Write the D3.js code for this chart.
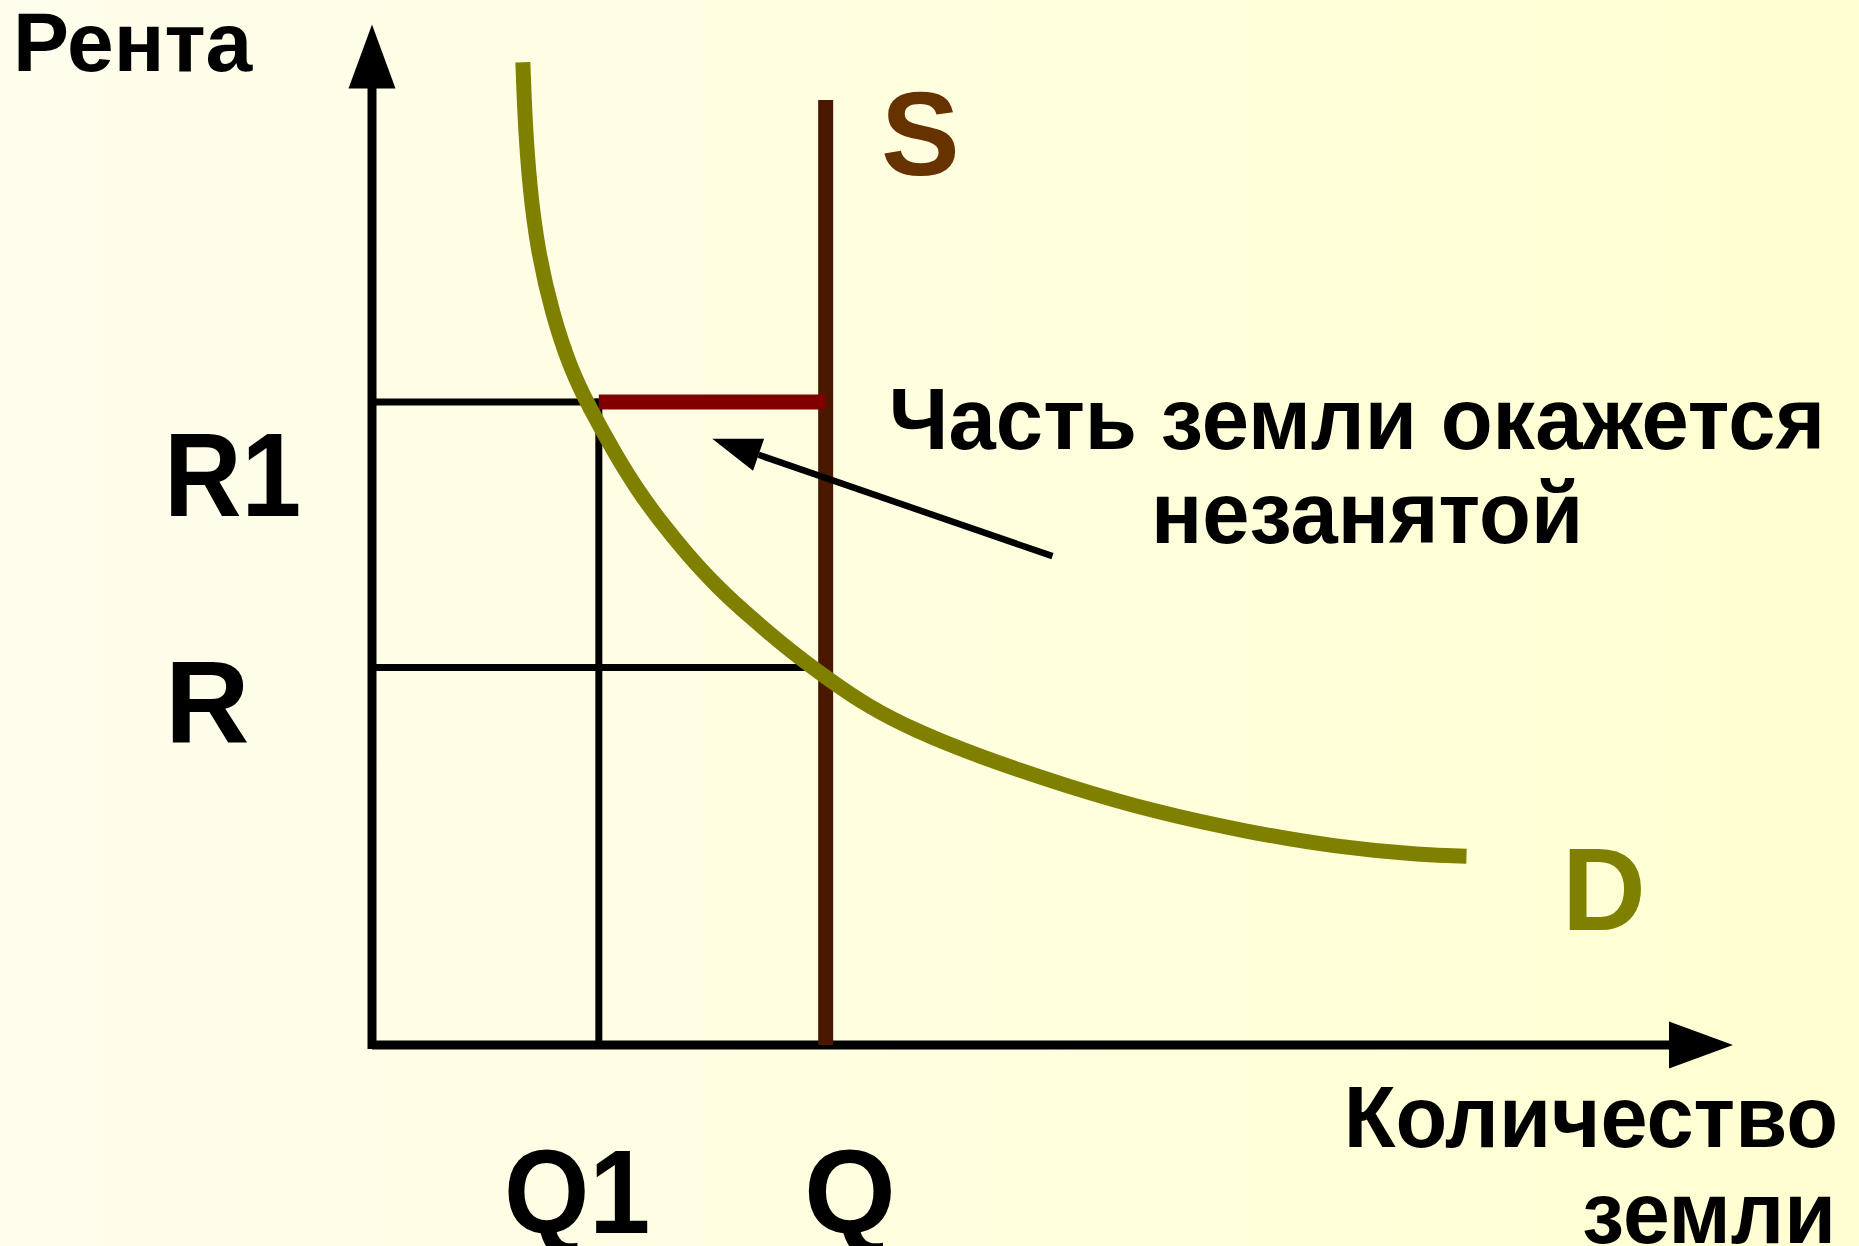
<!DOCTYPE html>
<html>
<head>
<meta charset="utf-8">
<script src="https://cdn.jsdelivr.net/npm/d3@7"></script>
<style>
  body { margin: 0; padding: 0; overflow: hidden; }
  text { font-family: "Liberation Sans", Arial, sans-serif; font-weight: bold; }
</style>
</head>
<body>
<svg id="chart" width="1859" height="1246"></svg>
<script>
// demand curve D (quantity, rent)
var demandQ = [1.33, 1.35, 1.39, 1.46, 1.59, 1.75, 1.91, 2.15, 2.34, 2.53, 2.77, 3.05, 3.36, 3.69, 4.03, 4.37, 4.79, 5.32, 6.14, 6.92, 7.71, 8.50, 9.28, 9.65];
var demandR = [9.63, 9.03, 8.41, 7.79, 7.16, 6.63, 6.26, 5.78, 5.44, 5.15, 4.82, 4.48, 4.17, 3.86, 3.58, 3.32, 3.08, 2.84, 2.53, 2.28, 2.09, 1.94, 1.86, 1.85];

// supply S is fixed at Q
var supplyQ = 4.0;
var supplyTop = 9.26;

// levels
var levelQ = [2.0, 4.0];      // Q1, Q
var levelR = [6.30, 3.70];    // R1, R

// annotation arrow (from text to the unused land)
var noteFrom = [6.0, 4.79];
var noteTo = [3.0, 5.94];

var svg = d3.select("#chart"),
    width = +svg.attr("width"),
    height = +svg.attr("height");

var defs = svg.append("defs");
var grad = defs.append("linearGradient")
    .attr("id", "bg")
    .attr("x1", "0%").attr("y1", "0%")
    .attr("x2", "100%").attr("y2", "0%");
grad.append("stop").attr("offset", "0%").attr("stop-color", "#fffdec");
grad.append("stop").attr("offset", "100%").attr("stop-color", "#ffffd1");

svg.append("rect")
    .attr("width", width)
    .attr("height", height)
    .attr("fill", "url(#bg)");

var x = d3.scaleLinear().domain([0, 12]).range([372, 1733]);
var y = d3.scaleLinear().domain([0, 10]).range([1045, 24.5]);

var headLen = 64, headHalf = 23.5;

// axes with arrows
var g = svg.append("g");

g.append("line")
    .attr("x1", x(0)).attr("y1", y(0) + 4)
    .attr("x2", x(0)).attr("y2", y(10) + headLen - 1)
    .attr("stroke", "#000").attr("stroke-width", 9);
g.append("polygon")
    .attr("points", [
      [x(0), y(10)],
      [x(0) - headHalf, y(10) + headLen],
      [x(0) + headHalf, y(10) + headLen]
    ].join(" "))
    .attr("fill", "#000");

g.append("line")
    .attr("x1", x(0)).attr("y1", y(0))
    .attr("x2", x(12) - headLen + 1).attr("y2", y(0))
    .attr("stroke", "#000").attr("stroke-width", 9);
g.append("polygon")
    .attr("points", [
      [x(12), y(0)],
      [x(12) - headLen, y(0) - headHalf],
      [x(12) - headLen, y(0) + headHalf]
    ].join(" "))
    .attr("fill", "#000");

// guide lines
g.append("line")
    .attr("x1", x(0)).attr("y1", y(levelR[0]))
    .attr("x2", x(levelQ[0])).attr("y2", y(levelR[0]))
    .attr("stroke", "#000").attr("stroke-width", 7);
g.append("line")
    .attr("x1", x(levelQ[0])).attr("y1", y(levelR[0]) - 3.5)
    .attr("x2", x(levelQ[0])).attr("y2", y(0))
    .attr("stroke", "#000").attr("stroke-width", 7);
g.append("line")
    .attr("x1", x(0)).attr("y1", y(levelR[1]))
    .attr("x2", x(levelQ[1])).attr("y2", y(levelR[1]))
    .attr("stroke", "#000").attr("stroke-width", 7);

// supply line S
g.append("line")
    .attr("x1", x(supplyQ)).attr("y1", y(supplyTop))
    .attr("x2", x(supplyQ)).attr("y2", y(0))
    .attr("stroke", "#4a1800").attr("stroke-width", 15);

// unused land segment
g.append("line")
    .attr("x1", x(levelQ[0])).attr("y1", y(levelR[0]))
    .attr("x2", x(levelQ[1])).attr("y2", y(levelR[0]))
    .attr("stroke", "#800000").attr("stroke-width", 15);

// demand curve D
var demand = demandQ.map(function(q, i) { return [q, demandR[i]]; });
var line = d3.line()
    .x(function(d) { return x(d[0]); })
    .y(function(d) { return y(d[1]); })
    .curve(d3.curveBasis);

g.append("path")
    .attr("d", line(demand))
    .attr("fill", "none")
    .attr("stroke", "#808000")
    .attr("stroke-width", 15);

// annotation arrow
var fx = x(noteFrom[0]), fy = y(noteFrom[1]),
    tx = x(noteTo[0]), ty = y(noteTo[1]);
var ang = Math.atan2(ty - fy, tx - fx);
var aLen = 49, aHalf = 17;
var bx = tx - aLen * Math.cos(ang), by = ty - aLen * Math.sin(ang);
g.append("line")
    .attr("x1", fx).attr("y1", fy)
    .attr("x2", bx).attr("y2", by)
    .attr("stroke", "#000").attr("stroke-width", 6.5);
g.append("polygon")
    .attr("points", [
      [tx, ty],
      [bx + aHalf * Math.sin(ang), by - aHalf * Math.cos(ang)],
      [bx - aHalf * Math.sin(ang), by + aHalf * Math.cos(ang)]
    ].join(" "))
    .attr("fill", "#000");

// squeeze a text a little, the slide font runs narrower
function squeeze(sel, k) {
  sel.each(function() {
    var w = this.getComputedTextLength();
    d3.select(this).attr("textLength", w * k).attr("lengthAdjust", "spacingAndGlyphs");
  });
}

// labels
var labels = [
  {t: "Рента", x: 13, y: 71, size: 84, fill: "#000", k: 1},
  {t: "R1", x: 164, y: 516, size: 118, fill: "#000", k: 0.91},
  {t: "R", x: 165, y: 743, size: 117, fill: "#000", k: 1},
  {t: "Q1", x: 504, y: 1233, size: 118, fill: "#000", k: 0.93},
  {t: "Q", x: 804, y: 1233, size: 118, fill: "#000", k: 1},
  {t: "S", x: 881, y: 175, size: 118, fill: "#663300", k: 1},
  {t: "D", x: 1562, y: 930, size: 116, fill: "#808000", k: 1}
];
svg.selectAll("text.lab")
  .data(labels)
  .enter().append("text")
    .attr("class", "lab")
    .attr("x", function(d) { return d.x; })
    .attr("y", function(d) { return d.y; })
    .attr("font-size", function(d) { return d.size; })
    .attr("fill", function(d) { return d.fill; })
    .text(function(d) { return d.t; })
    .each(function(d) { if (d.k !== 1) squeeze(d3.select(this), d.k); });

var note1 = svg.append("text")
    .attr("text-anchor", "middle")
    .attr("font-size", 88)
    .attr("x", 1357).attr("y", 449)
    .text("Часть земли окажется");
var note2 = svg.append("text")
    .attr("text-anchor", "middle")
    .attr("font-size", 88)
    .attr("x", 1367).attr("y", 543)
    .text("незанятой");
squeeze(note1, 0.966);
squeeze(note2, 0.965);

var xt1 = svg.append("text")
    .attr("text-anchor", "end")
    .attr("font-size", 87)
    .attr("x", 1838).attr("y", 1147)
    .text("Количество");
var xt2 = svg.append("text")
    .attr("text-anchor", "end")
    .attr("font-size", 87)
    .attr("x", 1836).attr("y", 1243)
    .text("земли");
squeeze(xt1, 0.975);
squeeze(xt2, 0.967);
</script>
</body>
</html>
